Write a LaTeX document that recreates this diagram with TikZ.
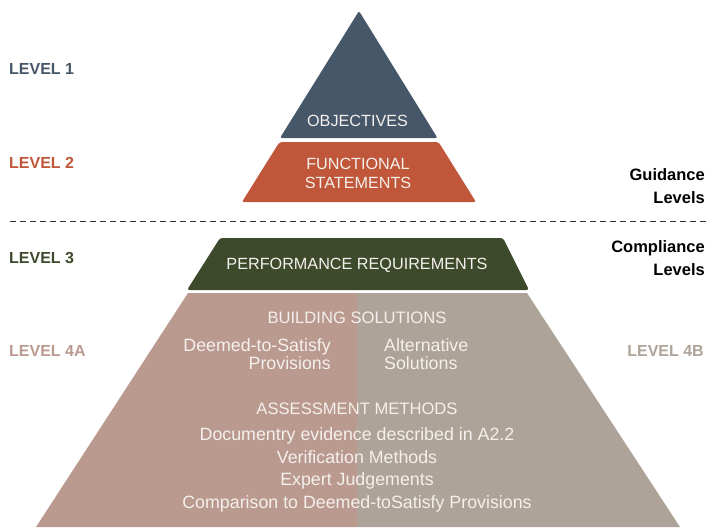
\documentclass[tikz,border=0pt]{standalone}
\usepackage{fontspec}
\setmainfont{Liberation Sans}
\definecolor{cobj}{HTML}{465769}
\definecolor{cfun}{HTML}{C0573A}
\definecolor{cperf}{HTML}{3D4A2B}
\definecolor{cfa}{HTML}{BA998F}
\definecolor{cfb}{HTML}{AEA398}
\definecolor{ctxt}{HTML}{F4F0EC}
\begin{document}
\begin{tikzpicture}[x=1pt,y=-1pt,
  lvl/.style={font=\bfseries\fontsize{16}{18}\selectfont, inner sep=0pt},
  side/.style={font=\bfseries\fontsize{16.5}{22.5}\selectfont, align=right, inner sep=0pt, anchor=east},
  intext/.style={font=\fontsize{16.2}{19}\selectfont, text=ctxt, inner sep=0pt},
  capsb/.style={intext, font=\fontsize{16.6}{19}\selectfont},
  mixed/.style={intext, font=\fontsize{17.8}{18.2}\selectfont},
  lines/.style={intext, align=center, font=\fontsize{17.8}{22.7}\selectfont}]
\useasboundingbox (0,0) rectangle (706,527);
% shapes
\fill[cobj, rounded corners=2pt] (359,11) -- (437.5,138) -- (280,138) -- cycle;
\fill[cfun, rounded corners=2pt] (279.5,142) -- (438.5,142) -- (476,202) -- (242,202) -- cycle;
\fill[cperf, rounded corners=2.5pt] (220,238) -- (503,238) -- (529,290) -- (187,290) -- cycle;
\fill[cfa] (188,293) -- (357,293) -- (357,527) -- (36,527) -- cycle;
\fill[cfb] (357,293) -- (527,293) -- (680,527) -- (357,527) -- cycle;
% dashed separator
\coordinate (dl) at (10,221);
\coordinate (dr) at (706,221);
\draw[black!80, line width=1pt, dash pattern=on 6pt off 4pt] (dl) -- (dr);
% level labels
\node[lvl, text=cobj, anchor=west] (l1) at (9,69) {LEVEL 1};
\node[lvl, text=cfun, anchor=west] (l2) at (9,163) {LEVEL 2};
\node[lvl, text=cperf, anchor=west] (l3) at (9,258) {LEVEL 3};
\node[lvl, text=cfa, anchor=west] (l4a) at (9,351) {LEVEL 4A};
\node[lvl, text=cfb, anchor=east] (l4b) at (704,351) {LEVEL 4B};
\node[side] (guid) at (705,186) {Guidance\\Levels};
\node[side] (comp) at (705,258) {Compliance\\Levels};
% texts in pyramid
\node[intext] (obj) at (357.5,121) {OBJECTIVES};
\node[intext, align=center] (fun) at (358,173) {FUNCTIONAL\\STATEMENTS};
\node[intext] (perf) at (357,265) {PERFORMANCE REQUIREMENTS};
\node[capsb] (bs) at (357,318) {BUILDING SOLUTIONS};
\node[mixed, align=right, anchor=east] (dts) at (331,354.5) {Deemed-to-Satisfy\\Provisions};
\node[mixed, align=left, anchor=west] (alt) at (384,354.5) {Alternative\\Solutions};
\node[capsb] (am) at (357,409) {ASSESSMENT METHODS};
\node[lines] (meth) at (357,470) {Documentry evidence described in A2.2\\Verification Methods\\Expert Judgements\\Comparison to Deemed-toSatisfy Provisions};
\end{tikzpicture}
\end{document}
